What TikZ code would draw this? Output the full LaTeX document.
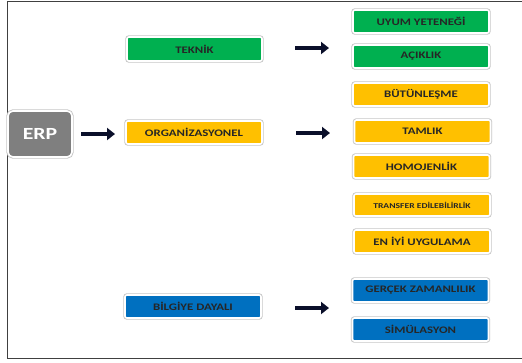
\documentclass[tikz,border=0pt]{standalone}
\usepackage{fontspec}
\setmainfont{Carlito}[FakeStretch=1.28]
\usetikzlibrary{arrows.meta}
\definecolor{cgreen}{HTML}{00B050}
\definecolor{cyellow}{HTML}{FFC000}
\definecolor{cblue}{HTML}{0070C0}
\definecolor{cgray}{HTML}{7F7F7F}
\definecolor{arrowc}{HTML}{0A0F2A}
\tikzset{
  box/.style={rounded corners=2pt, draw=white, line width=1.6pt,
    preaction={draw=black!22, line width=3.4pt},
    minimum width=136pt, minimum height=23pt, inner sep=0pt,
    font=\bfseries\fontsize{10}{11}\selectfont, text=black!85,
    path picture={\fill[black,opacity=0.18] ([yshift=-2pt]path picture bounding box.south west) rectangle ([yshift=-0.5pt]path picture bounding box.south east);}},
  gbox/.style={box, fill=cgreen},
  ybox/.style={box, fill=cyellow},
  bbox/.style={box, fill=cblue},
  erpbox/.style={rounded corners=5pt, draw=white, line width=1.6pt,
    preaction={draw=black!22, line width=3.4pt}, fill=cgray,
    minimum width=64pt, minimum height=46pt, inner sep=0pt,
    font=\bfseries\fontsize{17}{18}\selectfont, text=white},
  bigarrow/.style={draw=arrowc, line width=4pt, -{Triangle[length=8pt,width=12pt]}}
}
\begin{document}
\begin{tikzpicture}[x=1pt,y=-1pt]
\useasboundingbox (0,0) rectangle (522,362);
\fill[white] (0,0) rectangle (522,362);
\draw[black!75, line width=1pt] (525,1.5) -- (7,1.5) -- (7,358) -- (525,358);

\node[erpbox] (erp) at (40,134) {ERP};

\node[gbox, minimum width=135pt, minimum height=24pt] (teknik) at (194.5,49) {TEKNİK};
\node[ybox] (org) at (194,132.5) {ORGANİZASYONEL};
\node[bbox] (bilgi) at (193,306.5) {BİLGİYE DAYALI};

\node[gbox] (uyum) at (421,21.5) {UYUM YETENEĞİ};
\node[gbox] (acik) at (421,56.5) {AÇIKLIK};
\node[ybox] (butun) at (421,94.5) {BÜTÜNLEŞME};
\node[ybox] (tam) at (422.5,131.5) {TAMLIK};
\node[ybox] (homo) at (421.5,166.5) {HOMOJENLİK};
\node[ybox, minimum height=22pt, font=\bfseries\fontsize{7.5}{8}\selectfont] (trans) at (422,205) {TRANSFER EDİLEBİLİRLİK};
\node[ybox] (eniyi) at (422,241.5) {EN İYİ UYGULAMA};
\node[bbox] (gercek) at (420.5,290.5) {GERÇEK ZAMANLILIK};
\node[bbox] (simul) at (420.5,329.5) {SİMÜLASYON};

\coordinate (a1s) at (81,134);   \coordinate (a1e) at (115,134);
\coordinate (a2s) at (295,48);   \coordinate (a2e) at (329,48);
\coordinate (a3s) at (296,133);  \coordinate (a3e) at (330,133);
\coordinate (a4s) at (295,308);  \coordinate (a4e) at (329,308);
\draw[bigarrow] (a1s) -- (a1e);
\draw[bigarrow] (a2s) -- (a2e);
\draw[bigarrow] (a3s) -- (a3e);
\draw[bigarrow] (a4s) -- (a4e);
\end{tikzpicture}
\end{document}
